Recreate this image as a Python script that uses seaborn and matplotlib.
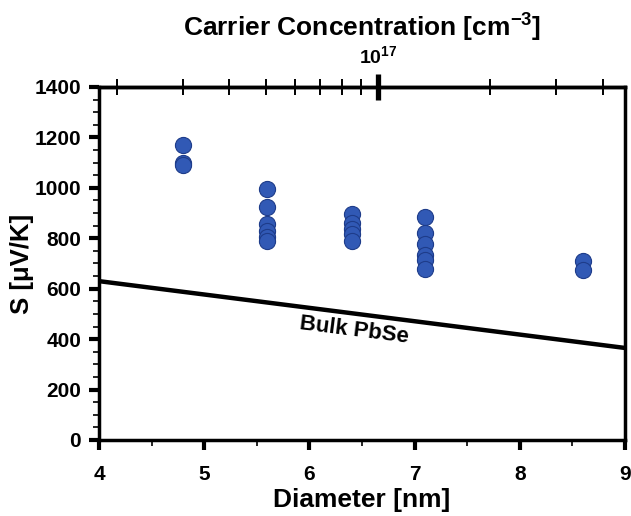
import numpy as np
import pandas as pd
import matplotlib
matplotlib.use("Agg")
import matplotlib.pyplot as plt
import matplotlib.ticker as mticker
import seaborn as sns

# ---- data ----
diameter = [4.8, 4.8, 4.8,
            5.6, 5.6, 5.6, 5.6, 5.6, 5.6,
            6.4, 6.4, 6.4, 6.4, 6.4,
            7.1, 7.1, 7.1, 7.1, 7.1, 7.1,
            8.6, 8.6]
seebeck = [1170, 1100, 1090,
           995, 925, 855, 830, 805, 790,
           895, 860, 835, 815, 790,
           885, 820, 778, 732, 715, 680,
           710, 675]
bulk_d = [4, 9]
bulk_s = [630, 365]
# top axis: log10(concentration) = ref_log + (d - ref_d) / d_per_decade
ref_d = 6.652
ref_log = 17.0
d_per_decade = 3.55
top_major = [1e17]
top_major_labels = [r"10$^{17}$"]
top_minor = [2e16, 3e16, 4e16, 5e16, 6e16, 7e16, 8e16, 9e16, 2e17, 3e17, 4e17]

sns.set_theme(style="white")
plt.rcParams['font.family'] = ['Liberation Sans', 'DejaVu Sans']
plt.rcParams['font.weight'] = 'bold'
plt.rcParams['text.color'] = 'black'
plt.rcParams['axes.labelcolor'] = 'black'
plt.rcParams['xtick.color'] = 'black'
plt.rcParams['ytick.color'] = 'black'
plt.rcParams['mathtext.fontset'] = 'custom'
plt.rcParams['mathtext.rm'] = 'Liberation Sans:bold'
plt.rcParams['mathtext.bf'] = 'Liberation Sans:bold'
plt.rcParams['mathtext.default'] = 'bf'

fig = plt.figure(figsize=(6.31, 5.16), dpi=100)
ax = fig.add_axes([0.157, 0.1473, 0.8336, 0.6841])

df = pd.DataFrame({"d": diameter, "S": seebeck})
bulk = pd.DataFrame({"d": bulk_d, "S": bulk_s})

sns.lineplot(data=bulk, x="d", y="S", ax=ax, color="black", linewidth=3.2)
sns.scatterplot(data=df, x="d", y="S", ax=ax, s=135, color="#3159b5",
                edgecolor="#1e3c8a", linewidth=0.8, zorder=3)

ax.set_xlim(4, 9)
ax.set_ylim(0, 1400)
ax.set_xticks([4, 5, 6, 7, 8, 9])
ax.set_yticks(range(0, 1401, 200))
ax.xaxis.set_minor_locator(mticker.FixedLocator([4.5, 5.5, 6.5, 7.5, 8.5]))
ax.yaxis.set_minor_locator(mticker.MultipleLocator(50))
for sp in ax.spines.values():
    sp.set_color('black')
    sp.set_linewidth(2.5)

ax.set_xlabel("Diameter [nm]", fontsize=19, fontweight='bold', labelpad=3)
ax.set_ylabel("S [\u03bcV/K]", fontsize=18.5, fontweight='bold', labelpad=0)

ax.text(6.42, 436, "Bulk PbSe", rotation=-7.2, ha='center', va='center',
        fontsize=16, fontweight='bold', color='black')


def d2n(d):
    return 10 ** (ref_log + (np.asarray(d, dtype=float) - ref_d) / d_per_decade)


def n2d(n):
    n = np.clip(np.asarray(n, dtype=float), 1e-300, None)
    return ref_d + (np.log10(n) - ref_log) * d_per_decade


# minor ticks of the top (log) axis, placed through the diameter<->concentration map
ax.vlines(n2d(top_minor), 0.976, 1.024, transform=ax.get_xaxis_transform(),
          colors='black', linewidth=1.4, clip_on=False, zorder=5)

# major tick + label of the top axis
sec = ax.secondary_xaxis('top', functions=(d2n, n2d))
sec.set_xticks(top_major, labels=top_major_labels)
sec.tick_params(axis='x', which='major', direction='inout', length=19, width=3.8,
                labelsize=14, pad=5, colors='black')
sec.spines['top'].set_linewidth(2.5)
sec.spines['top'].set_color('black')
sec.set_xlabel("Carrier Concentration [cm$^{-3}$]", fontsize=19, fontweight='bold',
               labelpad=6, color='black')

ax.tick_params(axis='both', which='major', direction='out', length=7, width=3,
               labelsize=15, colors='black', bottom=True, left=True, top=False, right=False)
ax.tick_params(axis='x', which='major', pad=11)
ax.tick_params(axis='y', which='major', pad=6)
ax.tick_params(axis='both', which='minor', direction='out', length=4, width=1.2,
               bottom=True, left=True, top=False, right=False, colors='black')
for lab in ax.get_xticklabels() + ax.get_yticklabels() + sec.get_xticklabels():
    lab.set_fontweight('bold')

fig.savefig("out.png", dpi=100)
